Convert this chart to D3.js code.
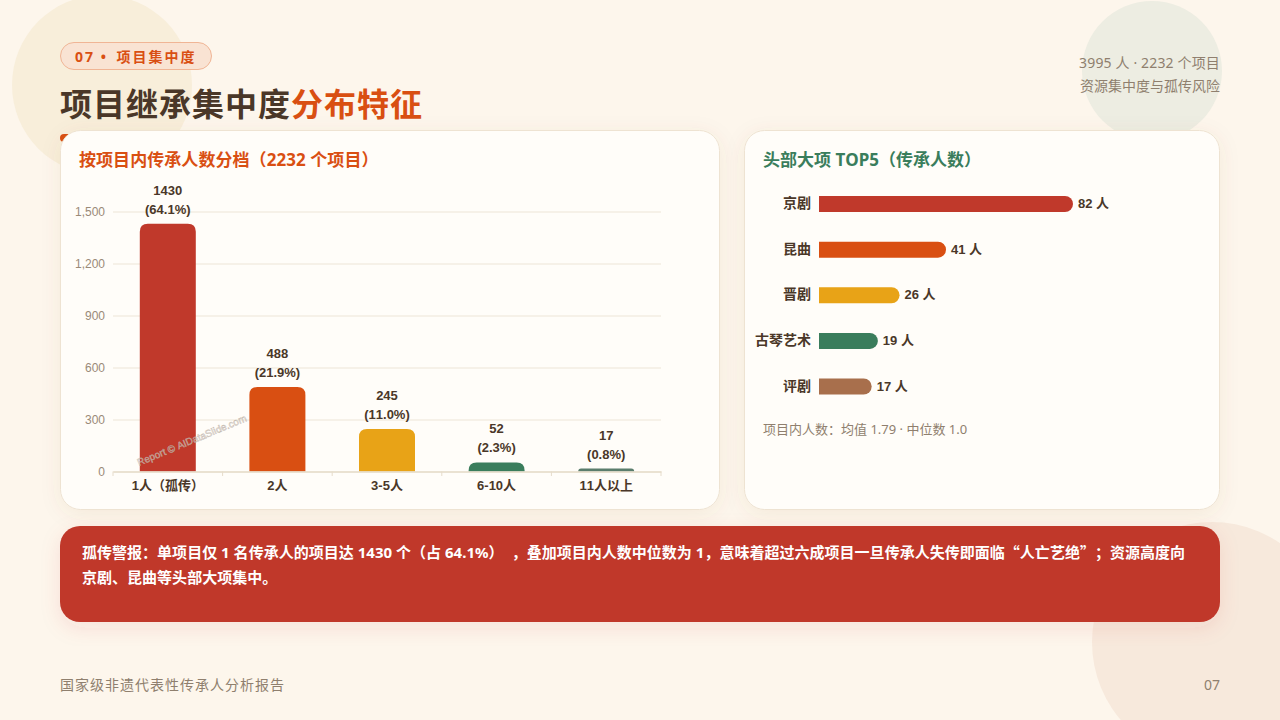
<!DOCTYPE html>
<html lang="zh-CN"><head><meta charset="utf-8">
<script src="https://cdn.jsdelivr.net/npm/d3@7/dist/d3.min.js"></script>
<style>
html,body{margin:0;padding:0;background:#fdf6ec;overflow:hidden}
svg{display:block;font-family:"Noto Sans","Noto Sans CJK SC",sans-serif;text-spacing-trim:space-all;font-feature-settings:"chws" 0,"halt" 0;font-kerning:none}
</style></head><body><svg id="c" width="1280" height="720"></svg>
<script>
const distCategories=["1人（孤传）","2人","3-5人","6-10人","11人以上"];
const distValues=[1430,488,245,52,17];
const distPercents=["64.1%","21.9%","11.0%","2.3%","0.8%"];
const distColors=["#c0392b","#d94f12","#e8a317","#3a7d5c","#5a7d6c"];
const distTicks=[0,300,600,900,1200,1500];
const topCategories=["京剧","昆曲","晋剧","古琴艺术","评剧"];
const topValues=[82,41,26,19,17];
const topColors=["#c0392b","#d94f12","#e8a317","#3a7d5c","#a86f4c"];
const alertLines=["孤传警报：单项目仅 1 名传承人的项目达 1430 个（占 64.1%），叠加项目内人数中位数为 1，意味着超过六成项目一旦传承人失传即面临“人亡艺绝”；资源高度向","京剧、昆曲等头部大项集中。"];

const chartFont='"Liberation Sans","Noto Sans CJK SC",sans-serif';
const cjkFont='"Noto Sans CJK SC",sans-serif';
const svg=d3.select("#c");
const defs=svg.append("defs");
const sh=defs.append("filter").attr("id","sh").attr("x","-10%").attr("y","-10%").attr("width","120%").attr("height","125%");
sh.append("feDropShadow").attr("dx",0).attr("dy",4).attr("stdDeviation",10).attr("flood-color","#8b5a2b").attr("flood-opacity",0.08);
const sh2=defs.append("filter").attr("id","sh2").attr("x","-5%").attr("y","-20%").attr("width","110%").attr("height","145%");
sh2.append("feDropShadow").attr("dx",0).attr("dy",6).attr("stdDeviation",10).attr("flood-color","#c0392b").attr("flood-opacity",0.10);

svg.append("rect").attr("width",1280).attr("height",720).attr("fill","#fdf6ec");
svg.append("circle").attr("cx",102).attr("cy",85).attr("r",90).attr("fill","#f8eeda");
svg.append("circle").attr("cx",1152).attr("cy",71).attr("r",70).attr("fill","#edede2");
svg.append("circle").attr("cx",1212).attr("cy",642).attr("r",120).attr("fill","#f7e9dc");

function txt(x,y,s,o){const t=svg.append("text").attr("x",x).attr("y",y).text(s)
 .attr("font-size",o.size).attr("fill",o.fill).attr("font-weight",o.weight||"normal").attr("text-anchor",o.anchor||"start");
 if(o.ls)t.attr("letter-spacing",o.ls);
 if(o.font)t.attr("font-family",o.font);
 return t;}

// Badge
svg.append("rect").attr("x",60.5).attr("y",42.5).attr("width",151).attr("height",27).attr("rx",13.5)
 .attr("fill","#f9e3d3").attr("stroke","#f0b595");
const badge=txt(75,62,"",{size:14,fill:"#d94f12",weight:"bold",ls:2});
badge.append("tspan").text("07 • ");
badge.append("tspan").attr("dx",3).text("项目集中度");
// Title
const title=txt(60,116,"",{size:32,fill:"#4a3728",weight:"bold",ls:1});
title.append("tspan").text("项目继承集中度");
title.append("tspan").attr("fill","#d94f12").text("分布特征");
svg.append("rect").attr("x",60).attr("y",134).attr("width",60).attr("height",8).attr("rx",4).attr("fill","#d94f12");
// Subtitle
txt(1220,68,"3995 人 · 2232 个项目",{size:14,fill:"#8f7f6e",anchor:"end",ls:0.15});
txt(1220,91,"资源集中度与孤传风险",{size:14,fill:"#8f7f6e",anchor:"end"});

// Cards
[[60.5,130.5,659,379],[744.5,130.5,475,379]].forEach(d=>{
 svg.append("rect").attr("x",d[0]).attr("y",d[1]).attr("width",d[2]).attr("height",d[3]).attr("rx",20)
  .attr("fill","#fffdf9").attr("stroke","#eee3d2").attr("filter","url(#sh)");
});
txt(79,166,"按项目内传承人数分档（2232 个项目）",{size:17,fill:"#d94f12",weight:"bold",ls:0.06});
txt(763,166,"头部大项 TOP5（传承人数）",{size:17,fill:"#3a7d5c",weight:"bold"});

// Left chart
const x=d3.scaleBand().domain(distCategories).range([113,661]);
const y=d3.scaleLinear().domain([0,1500]).range([471.5,211.5]);
const barW=56;
const gy=svg.append("g").attr("transform","translate(113,0)")
 .call(d3.axisLeft(y).tickValues(distTicks).tickSize(-548).tickPadding(8).tickFormat(d3.format(",")));
gy.select(".domain").remove();
gy.selectAll(".tick line").attr("stroke","#f3ede2").attr("stroke-width",1.5);
gy.selectAll(".tick text").attr("fill","#9a8a78").attr("font-size",12).attr("font-family",chartFont);
const r=8;
svg.append("g").selectAll("path").data(distValues).join("path")
 .attr("fill",(d,i)=>distColors[i])
 .attr("d",(d,i)=>{const l=x(distCategories[i])+(x.bandwidth()-barW)/2,t=y(d),b=y(0),rr=Math.min(r,b-t);
  return `M${l},${b}V${t+rr}Q${l},${t} ${l+rr},${t}H${l+barW-rr}Q${l+barW},${t} ${l+barW},${t+rr}V${b}Z`;});
const gx=svg.append("g").attr("transform","translate(0,471.5)")
 .call(d3.axisBottom(x).tickSize(0).tickPadding(9));
gx.select(".domain").attr("stroke","#e6dccb").attr("stroke-width",1.5);
gx.selectAll(".tick line").remove();
gx.selectAll(".tick text").attr("fill","#4a3728").attr("font-size",13).attr("font-weight","bold").attr("font-family",chartFont);
gx.selectAll(".sep").data(d3.range(6)).join("line").attr("class","sep")
 .attr("x1",i=>113+i*x.step()).attr("x2",i=>113+i*x.step()).attr("y1",0).attr("y2",4.5).attr("stroke","#e6dccb").attr("stroke-width",1);
distValues.forEach((v,i)=>{
 const cx=x(distCategories[i])+x.bandwidth()/2,t=y(v);
 txt(cx,t-29,String(v),{size:13,fill:"#4a3728",weight:"bold",anchor:"middle",font:chartFont});
 txt(cx,t-10,"("+distPercents[i]+")",{size:13,fill:"#4a3728",weight:"bold",anchor:"middle",font:chartFont});
});
// Watermark
svg.append("text").attr("transform","translate(139,466) rotate(-22.6)").text("Report © AIDataSlide.com")
 .attr("font-family",chartFont).attr("font-size",10).attr("fill","#ffffff").attr("fill-opacity",0.5).attr("stroke","#b0a396").attr("stroke-width",0.5).attr("stroke-opacity",0.75);

// Right chart
const bx=d3.scaleLinear().domain([0,82]).range([819,1073]);
const by=d3.scalePoint().domain(topCategories).range([204,386.5]);
const barH=16;
svg.append("g").selectAll("path").data(topValues).join("path")
 .attr("fill",(d,i)=>topColors[i])
 .attr("d",(d,i)=>{const cy=by(topCategories[i]),t=cy-barH/2,e=bx(d),rr=barH/2;
  return `M819,${t}H${e-rr}A${rr},${rr} 0 0 1 ${e-rr},${t+barH}H819Z`;});
topCategories.forEach((c,i)=>{
 const cy=by(c)+4;
 txt(811,cy,c,{size:14,fill:"#4a3728",weight:"bold",anchor:"end",font:chartFont});
 txt(bx(topValues[i])+5,cy,topValues[i]+" 人",{size:13,fill:"#4a3728",weight:"bold",font:chartFont});
});
txt(763,434,"项目内人数：均值 1.79 · 中位数 1.0",{size:13,fill:"#8f7f6e"});

// Alert
svg.append("rect").attr("x",60).attr("y",526).attr("width",1160).attr("height",96).attr("rx",20).attr("fill","#c0392b").attr("filter","url(#sh2)");
alertLines.forEach((l,i)=>{
 const t=txt(82,558+i*25,"",{size:15,fill:"#fff",weight:"bold",ls:0.02});
 l.split(/([“”]|），)/).forEach(p=>{
  if(p==="），"){
   t.append("tspan").text("）");
   t.append("tspan").attr("dx",8).text("，");
   return;
  }
  const s=t.append("tspan").text(p);
  if(p==="“"||p==="”")s.attr("font-family",cjkFont);
 });
});

// Footer
txt(60,690,"国家级非遗代表性传承人分析报告",{size:14,fill:"#8f7f6e",ls:1});
txt(1220,690,"07",{size:14,fill:"#8f7f6e",anchor:"end"});
</script></body></html>
